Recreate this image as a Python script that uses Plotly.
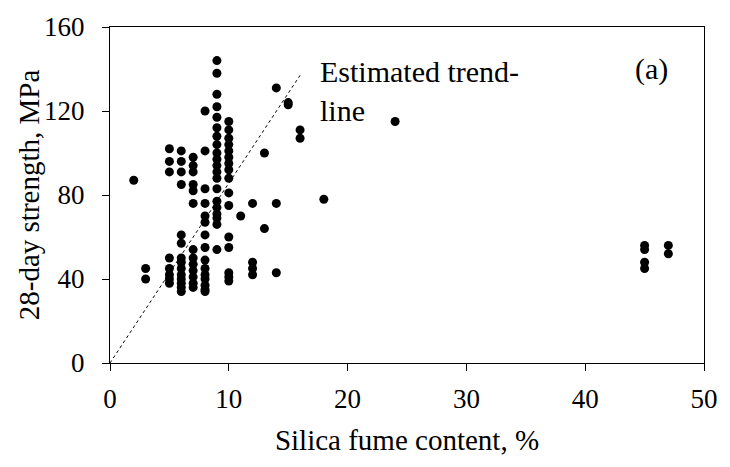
import plotly.graph_objects as go

# Data (silica fume %, 28-day strength MPa)
sf_2 = [87]
sf_3 = [45, 40]
sf_5 = [102, 96, 91, 50, 45, 42, 40, 38]
sf_6 = [101, 96, 91, 85, 61, 57, 50, 48, 45, 42, 40, 38, 36, 34]
sf_7 = [98, 94, 91, 85, 82, 76, 54, 50, 47, 44, 41, 38, 36]
sf_8 = [120, 101, 83, 76, 70, 67, 61, 55, 49, 45, 42, 40, 37, 35, 34]
sf_9 = [144, 138, 128, 122, 117, 112, 108, 104, 100, 97, 94, 91, 88, 83, 77, 74, 71, 69, 66, 54]
sf_10 = [115, 111, 107, 104, 101, 98, 95, 92, 88, 81, 75, 60, 55, 43, 41, 39]
sf_11 = [70]
sf_12 = [76, 48, 45, 42]
sf_13 = [100, 64]
sf_14 = [131, 76, 43]
sf_15 = [124, 123]
sf_16 = [111, 107]
sf_18 = [78]
sf_24 = [115]
sf_45 = [56, 54, 48, 45]
sf_47 = [56, 52]

groups = {2: sf_2, 3: sf_3, 5: sf_5, 6: sf_6, 7: sf_7, 8: sf_8, 9: sf_9, 10: sf_10,
          11: sf_11, 12: sf_12, 13: sf_13, 14: sf_14, 15: sf_15, 16: sf_16,
          18: sf_18, 24: sf_24, 45: sf_45, 47: sf_47}

trend_x = [0, 16]
trend_y = [0, 137]

x_ticks = [0, 10, 20, 30, 40, 50]
y_ticks = [0, 40, 80, 120, 160]

xs, ys = [], []
for k, vals in groups.items():
    for v in vals:
        xs.append(k)
        ys.append(v)

FONT = "Liberation Serif, Times New Roman, serif"

fig = go.Figure()
fig.add_trace(go.Scatter(x=trend_x, y=trend_y, mode="lines",
                         line=dict(color="black", width=1, dash="dot"),
                         hoverinfo="skip", showlegend=False))
fig.add_trace(go.Scatter(x=xs, y=ys, mode="markers",
                         marker=dict(color="black", size=9, line=dict(width=0)),
                         showlegend=False))

fig.add_annotation(x=17.5, y=129.5, xref="x", yref="y", text="Estimated trend-<br>line",
                   showarrow=False, xanchor="left", yanchor="middle", align="left",
                   font=dict(family=FONT, size=30, color="black"))
fig.add_annotation(x=45.6, y=140, xref="x", yref="y", text="(a)",
                   showarrow=False, xanchor="center", yanchor="middle",
                   font=dict(family=FONT, size=30, color="black"))
# y-axis title placed left of the tick labels
fig.add_annotation(x=-0.136, y=0.5, xref="paper", yref="paper", text="28-day strength, MPa",
                   showarrow=False, textangle=-90, xanchor="center", yanchor="middle",
                   font=dict(family=FONT, size=29, color="black"))

axis_common = dict(showline=True, linecolor="black", linewidth=1, mirror=True,
                   ticks="outside", ticklen=7, tickcolor="black", tickwidth=1,
                   showgrid=False, zeroline=False,
                   tickfont=dict(family=FONT, size=27, color="black"))

fig.update_xaxes(range=[0, 50], tickvals=x_ticks, ticklabelstandoff=5,
                 title=dict(text="Silica fume content, %", font=dict(family=FONT, size=29, color="black"),
                            standoff=16),
                 **axis_common)
fig.update_yaxes(range=[0, 160], tickvals=y_ticks, ticklabelstandoff=12,
                 **axis_common)

fig.update_layout(width=730, height=467, margin=dict(l=110, r=19, t=16, b=104),
                  plot_bgcolor="white", paper_bgcolor="white")

fig.write_html("out.html")
